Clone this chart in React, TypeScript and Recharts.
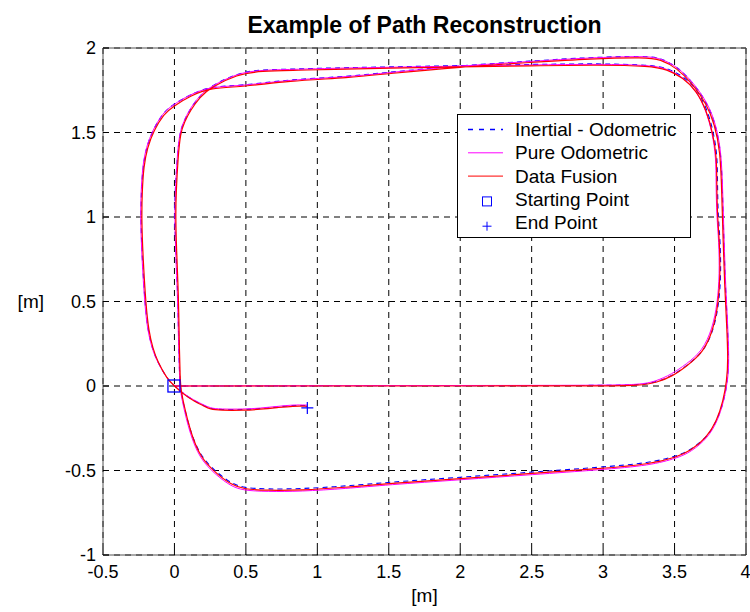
import React from 'react';
import {
  ComposedChart,
  Line,
  Scatter,
  XAxis,
  YAxis,
  CartesianGrid,
  Legend,
  Label,
} from 'recharts';

type Pt = [number, number];

// Axis ticks
const xTicks = [-0.5, 0, 0.5, 1, 1.5, 2, 2.5, 3, 3.5, 4];
const yTicks = [-1, -0.5, 0, 0.5, 1, 1.5, 2];

// Data fusion estimate of the robot path [m]
const fusionPath: Pt[] = [
  [0, 0], [1, 0], [2, 0], [3, 0], [3.26, 0.003], [3.375, 0.02], [3.49, 0.06], [3.585, 0.118],
  [3.7, 0.197], [3.77, 0.33], [3.805, 0.48], [3.82, 0.65], [3.815, 0.85], [3.8, 1.0], [3.795, 1.2],
  [3.795, 1.35], [3.77, 1.49], [3.725, 1.627], [3.655, 1.746], [3.56, 1.824], [3.445, 1.874],
  [3.33, 1.893], [2.98, 1.9], [2.5, 1.895], [2.0, 1.888], [1.5, 1.88], [1.09, 1.874], [0.88, 1.868],
  [0.6, 1.864], [0.44, 1.844], [0.25, 1.765], [0.18, 1.71], [0.11, 1.63], [0.07, 1.56], [0.042, 1.5],
  [0.025, 1.35], [0.012, 1.15], [0.008, 1.0], [0.015, 0.8], [0.025, 0.6], [0.03, 0.45], [0.035, 0.2],
  [0.04, 0.05], [0.045, -0.02], [0.065, -0.108], [0.11, -0.266], [0.18, -0.424], [0.3, -0.523],
  [0.4, -0.585], [0.485, -0.611], [0.65, -0.618], [0.88, -0.617], [1.2, -0.6], [1.49, -0.578],
  [2.0, -0.548], [2.51, -0.517], [2.98, -0.489], [3.33, -0.463], [3.515, -0.42], [3.61, -0.385],
  [3.725, -0.306], [3.795, -0.207], [3.84, -0.09], [3.865, 0.03], [3.875, 0.148], [3.865, 0.365],
  [3.85, 0.6], [3.84, 0.858], [3.83, 1.154], [3.82, 1.39], [3.78, 1.55], [3.725, 1.667], [3.63, 1.785],
  [3.515, 1.883], [3.4, 1.933], [3.3, 1.945], [2.91, 1.937], [2.5, 1.915], [2.0, 1.888], [1.49, 1.848],
  [1.23, 1.824], [0.79, 1.805], [0.485, 1.77], [0.25, 1.765], [0.11, 1.716], [-0.005, 1.657],
  [-0.075, 1.61], [-0.145, 1.51], [-0.19, 1.41], [-0.215, 1.3], [-0.226, 1.15], [-0.23, 0.986],
  [-0.22, 0.76], [-0.2, 0.483], [-0.18, 0.325], [-0.15, 0.22], [-0.12, 0.148], [-0.05, 0.04],
  [0, 0], [0.065, -0.05], [0.135, -0.089], [0.205, -0.118], [0.25, -0.138], [0.32, -0.144],
  [0.485, -0.144], [0.6, -0.138], [0.72, -0.128], [0.83, -0.118], [0.93, -0.12],
];

// Pure odometric estimate
const odometricPath: Pt[] = [
  [0, 0], [1, 0.002], [2, 0.003], [3, 0.004], [3.26, 0.008], [3.37, 0.028], [3.48, 0.07], [3.58, 0.128],
  [3.695, 0.207], [3.765, 0.34], [3.8, 0.49], [3.815, 0.66], [3.81, 0.86], [3.795, 1.0], [3.79, 1.2],
  [3.79, 1.35], [3.765, 1.495], [3.72, 1.632], [3.65, 1.752], [3.555, 1.83], [3.44, 1.88],
  [3.33, 1.898], [2.98, 1.905], [2.5, 1.9], [2.0, 1.893], [1.5, 1.886], [1.09, 1.88], [0.88, 1.874],
  [0.6, 1.87], [0.44, 1.85], [0.25, 1.772], [0.175, 1.717], [0.105, 1.637], [0.065, 1.565], [0.036, 1.5],
  [0.018, 1.35], [0.006, 1.15], [0.002, 1.0], [0.008, 0.8], [0.018, 0.6], [0.024, 0.45], [0.03, 0.2],
  [0.036, 0.05], [0.04, -0.02], [0.06, -0.112], [0.105, -0.272], [0.175, -0.43], [0.295, -0.53],
  [0.395, -0.592], [0.48, -0.618], [0.65, -0.625], [0.88, -0.624], [1.2, -0.607], [1.49, -0.585],
  [2.0, -0.555], [2.51, -0.524], [2.98, -0.496], [3.33, -0.47], [3.52, -0.426], [3.615, -0.39],
  [3.73, -0.31], [3.8, -0.21], [3.845, -0.09], [3.872, 0.03], [3.882, 0.148], [3.872, 0.365],
  [3.857, 0.6], [3.847, 0.858], [3.837, 1.154], [3.827, 1.39], [3.787, 1.555], [3.732, 1.673],
  [3.637, 1.79], [3.52, 1.89], [3.4, 1.94], [3.3, 1.952], [2.91, 1.943], [2.5, 1.921], [2.0, 1.894],
  [1.49, 1.854], [1.23, 1.83], [0.79, 1.811], [0.485, 1.776], [0.25, 1.772], [0.105, 1.723],
  [-0.01, 1.664], [-0.082, 1.616], [-0.152, 1.515], [-0.198, 1.413], [-0.223, 1.3], [-0.234, 1.15],
  [-0.238, 0.986], [-0.228, 0.76], [-0.208, 0.483], [-0.188, 0.33], [-0.158, 0.226], [-0.127, 0.155],
  [-0.055, 0.046], [-0.003, 0.004], [0.062, -0.044], [0.132, -0.082], [0.203, -0.111], [0.25, -0.131],
  [0.32, -0.137], [0.485, -0.137], [0.6, -0.131], [0.72, -0.121], [0.83, -0.111], [0.93, -0.113],
];

// Inertial + odometric estimate
const inertialPath: Pt[] = [
  [0, 0], [1, 0.001], [2, 0.002], [3, 0.003], [3.26, 0.006], [3.38, 0.024], [3.495, 0.065], [3.59, 0.124],
  [3.705, 0.203], [3.775, 0.335], [3.81, 0.485], [3.825, 0.655], [3.82, 0.855], [3.805, 1.0], [3.8, 1.2],
  [3.8, 1.35], [3.775, 1.495], [3.73, 1.633], [3.66, 1.752], [3.565, 1.831], [3.45, 1.881],
  [3.33, 1.9], [2.98, 1.908], [2.5, 1.903], [2.0, 1.896], [1.5, 1.888], [1.09, 1.882], [0.88, 1.876],
  [0.6, 1.872], [0.44, 1.852], [0.25, 1.773], [0.178, 1.718], [0.108, 1.638], [0.066, 1.566], [0.037, 1.5],
  [0.02, 1.35], [0.004, 1.15], [0.001, 1.0], [0.01, 0.8], [0.02, 0.6], [0.026, 0.45], [0.031, 0.2],
  [0.037, 0.05], [0.042, -0.02], [0.062, -0.104], [0.108, -0.26], [0.18, -0.416], [0.3, -0.515],
  [0.4, -0.577], [0.485, -0.603], [0.65, -0.61], [0.88, -0.609], [1.2, -0.592], [1.49, -0.57],
  [2.0, -0.54], [2.51, -0.509], [2.98, -0.481], [3.33, -0.455], [3.52, -0.413], [3.615, -0.378],
  [3.73, -0.3], [3.8, -0.202], [3.846, -0.086], [3.87, 0.03], [3.88, 0.148], [3.87, 0.365],
  [3.855, 0.6], [3.845, 0.858], [3.835, 1.154], [3.825, 1.39], [3.785, 1.553], [3.73, 1.672],
  [3.635, 1.79], [3.52, 1.89], [3.4, 1.941], [3.3, 1.953], [2.91, 1.945], [2.5, 1.923], [2.0, 1.896],
  [1.49, 1.856], [1.23, 1.832], [0.79, 1.813], [0.485, 1.778], [0.25, 1.773], [0.108, 1.724],
  [-0.01, 1.665], [-0.08, 1.617], [-0.15, 1.516], [-0.196, 1.414], [-0.221, 1.3], [-0.232, 1.15],
  [-0.236, 0.986], [-0.226, 0.76], [-0.206, 0.483], [-0.186, 0.33], [-0.156, 0.226], [-0.125, 0.154],
  [-0.053, 0.044], [-0.002, 0.002], [0.064, -0.046], [0.134, -0.085], [0.204, -0.114], [0.25, -0.134],
  [0.32, -0.14], [0.485, -0.14], [0.6, -0.134], [0.72, -0.124], [0.83, -0.114], [0.93, -0.116],
];

const startPoint: Pt = [0, 0];
const endPoint: Pt = [0.93, -0.13];

const toRows = (pts: Pt[]) => pts.map(([x, y]) => ({ x, y }));

const FONT = '"Liberation Sans", Arial, Helvetica, sans-serif';
const BLUE = '#0000ff';
const MAGENTA = '#ff00ff';
const RED = '#ff0000';
const FRAME = '#555555';

const SquareMarker = (props: any) => {
  const { cx, cy } = props;
  return <rect x={cx - 6.5} y={cy - 6} width={12} height={12} fill="none" stroke={BLUE} strokeWidth={1.3} />;
};

const PlusMarker = (props: any) => {
  const { cx, cy } = props;
  return (
    <path
      d={`M${cx - 6},${cy}H${cx + 6}M${cx},${cy - 6}V${cy + 6}`}
      stroke={BLUE}
      strokeWidth={1.2}
      fill="none"
    />
  );
};

const legendRows = [
  { label: 'Inertial - Odometric', kind: 'dash' },
  { label: 'Pure Odometric', kind: 'magenta' },
  { label: 'Data Fusion', kind: 'red' },
  { label: 'Starting Point', kind: 'square' },
  { label: 'End Point', kind: 'plus' },
];

const PathLegend = () => (
  <svg width={234} height={124} style={{ display: 'block', fontFamily: FONT }}>
    <rect x={0.5} y={0.5} width={233} height={123} fill="#fff" stroke="#000" strokeWidth={1} />
    {legendRows.map((row, i) => {
      const y = 15.5 + i * 23.3;
      let sample: React.ReactNode = null;
      if (row.kind === 'dash') {
        sample = <line x1={11} x2={46} y1={y} y2={y} stroke={BLUE} strokeWidth={1.3} strokeDasharray="5 6" />;
      } else if (row.kind === 'magenta') {
        sample = <line x1={11} x2={46} y1={y} y2={y} stroke={MAGENTA} />;
      } else if (row.kind === 'red') {
        sample = <line x1={11} x2={46} y1={y} y2={y} stroke={RED} />;
      } else if (row.kind === 'square') {
        sample = <rect x={25.5} y={y - 2.5} width={9} height={9} fill="none" stroke={BLUE} />;
      } else {
        sample = (
          <path d={`M${25.5},${y + 3.5}h9M${30},${y - 1}v9`} stroke={BLUE} fill="none" />
        );
      }
      return (
        <g key={row.label}>
          {sample}
          <text x={58} y={y} dy="0.35em" fontSize={19} fill="#000">
            {row.label}
          </text>
        </g>
      );
    })}
  </svg>
);

const tickStyle = { fill: '#000', fontSize: 18, fontFamily: FONT };

export default function App() {
  return (
    <div style={{ position: 'absolute', left: 0, top: 0, width: 750, height: 612, background: '#fff' }}>
      <ComposedChart width={750} height={612} margin={{ top: 47, right: 3, bottom: 27, left: 43 }}>
        <CartesianGrid stroke="#000" strokeDasharray="6 5" strokeWidth={1} />
        <XAxis
          type="number"
          dataKey="x"
          domain={[-0.5, 4]}
          ticks={xTicks}
          allowDataOverflow
          height={30}
          stroke={FRAME}
          tickSize={-6}
          tickMargin={16}
          tick={tickStyle}
          tickLine={{ stroke: '#000' }}
        >
          <Label value="[m]" position="bottom" offset={4} style={{ fill: '#000', fontSize: 19, fontFamily: FONT }} />
        </XAxis>
        <XAxis
          xAxisId="top"
          orientation="top"
          type="number"
          dataKey="x"
          domain={[-0.5, 4]}
          ticks={xTicks}
          allowDataOverflow
          height={1}
          stroke={FRAME}
          tickSize={-6}
          tick={false}
          tickLine={{ stroke: '#000' }}
        >
          <Label
            value="Example of Path Reconstruction"
            position="top"
            offset={14}
            style={{ fill: '#000', fontSize: 23, fontWeight: 'bold', fontFamily: FONT }}
          />
        </XAxis>
        <YAxis
          type="number"
          domain={[-1, 2]}
          ticks={yTicks}
          allowDataOverflow
          width={60}
          stroke={FRAME}
          tickSize={-6}
          tickMargin={13}
          tick={tickStyle}
          tickLine={{ stroke: '#000' }}
        >
          <Label value="[m]" position="left" offset={-1} style={{ fill: '#000', fontSize: 19, fontFamily: FONT }} />
        </YAxis>
        <YAxis
          yAxisId="right"
          orientation="right"
          type="number"
          domain={[-1, 2]}
          ticks={yTicks}
          allowDataOverflow
          width={1}
          stroke={FRAME}
          tickSize={-6}
          tick={false}
          tickLine={{ stroke: '#000' }}
        />
        <Line
          data={toRows(inertialPath)}
          dataKey="y"
          type="basis"
          stroke={BLUE}
          strokeWidth={1.1}
          strokeDasharray="5 4"
          dot={false}
          isAnimationActive={false}
        />
        <Line
          data={toRows(odometricPath)}
          dataKey="y"
          type="basis"
          stroke={MAGENTA}
          strokeWidth={1}
          dot={false}
          isAnimationActive={false}
        />
        <Line
          data={toRows(fusionPath)}
          dataKey="y"
          type="basis"
          stroke={RED}
          strokeWidth={1.2}
          dot={false}
          isAnimationActive={false}
        />
        <Scatter
          data={toRows([startPoint])}
          dataKey="y"
          shape={SquareMarker}
          isAnimationActive={false}
        />
        <Scatter
          data={toRows([endPoint])}
          dataKey="y"
          shape={PlusMarker}
          isAnimationActive={false}
        />
        <Legend
          layout="vertical"
          align="center"
          verticalAlign="middle"
          wrapperStyle={{ left: 457, top: 114, width: 234, height: 124 }}
          content={() => <PathLegend />}
        />
      </ComposedChart>
    </div>
  );
}
